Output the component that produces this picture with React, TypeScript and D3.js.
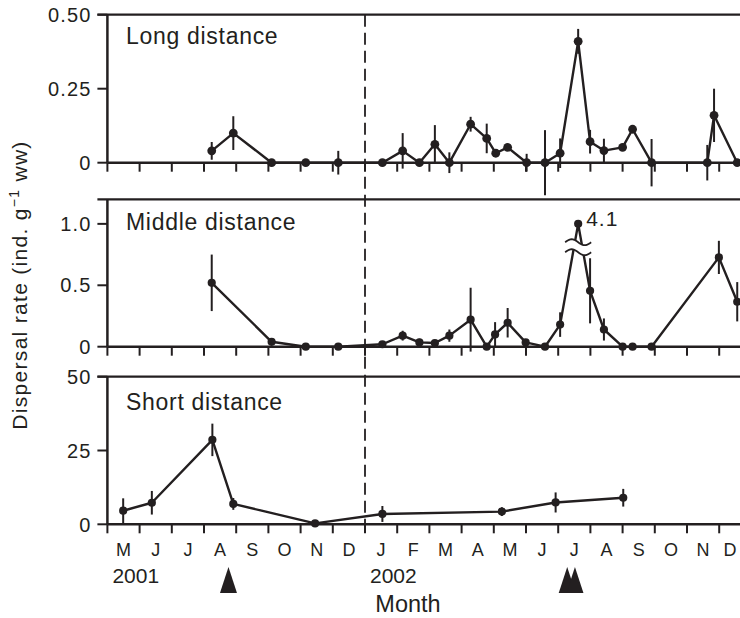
import * as d3 from "d3";
import React from "react";

const monthLabels = ["M", "J", "J", "A", "S", "O", "N", "D", "J", "F", "M", "A", "M", "J", "J", "A", "S", "O", "N", "D"];
const yearLabels = ["2001", "2002"];
const yearStartMonths = [0, 8];
const arrowMonths = [3.76, 14.28, 14.52];

// sample times, in months since 1 May 2001
const longMonths = [3.24, 3.91, 5.1, 6.16, 7.17, 8.54, 9.17, 9.69, 10.17, 10.62, 11.28, 11.78, 12.06, 12.43, 13.02, 13.59, 14.06, 14.62, 14.99, 15.42, 16.0, 16.31, 16.9, 18.63, 18.84, 19.56];
const longRates = [0.04, 0.1, 0, 0, 0, 0, 0.04, 0, 0.062, 0, 0.13, 0.082, 0.032, 0.052, 0, 0, 0.032, 0.41, 0.071, 0.041, 0.052, 0.113, 0, 0, 0.16, 0];
const longErrors = [0.03, 0.057, 0, 0, 0.04, 0, 0.06, 0, 0.065, 0.035, 0.025, 0.05, 0, 0, 0.03, 0.11, 0.05, 0.042, 0.04, 0.04, 0, 0, 0.08, 0.06, 0.09, 0];

const middleMonths = [3.24, 5.1, 6.16, 7.17, 8.54, 9.17, 9.69, 10.17, 10.62, 11.28, 11.78, 12.04, 12.43, 12.99, 13.59, 14.06, 14.62, 14.99, 15.42, 16.0, 16.31, 16.9, 18.99, 19.56];
const middleRates = [0.52, 0.04, 0, 0, 0.02, 0.09, 0.035, 0.03, 0.09, 0.22, 0, 0.1, 0.195, 0.035, 0, 0.18, 4.1, 0.455, 0.14, 0, 0, 0, 0.727, 0.366];
const middleErrors = [0.23, 0, 0, 0, 0, 0.04, 0.03, 0, 0.05, 0.26, 0, 0.1, 0.12, 0, 0, 0.1, 0, 0.265, 0.09, 0, 0, 0, 0.135, 0.16];

const shortMonths = [0.49, 1.38, 3.26, 3.91, 6.45, 8.54, 12.25, 13.92, 16.02];
const shortRates = [4.6, 7.3, 28.6, 6.9, 0.3, 3.5, 4.3, 7.4, 9.0];
const shortErrors = [4.2, 4.0, 5.5, 2.0, 0, 2.7, 1.5, 3.4, 3.0];

const longTicks = [0, 0.25, 0.5];
const longTickLabels = ["0", "0.25", "0.50"];
const middleTicks = [0, 0.5, 1.0];
const middleTickLabels = ["0", "0.5", "1.0"];
const shortTicks = [0, 25, 50];
const shortTickLabels = ["0", "25", "50"];

const WIDTH = 740;
const HEIGHT = 618;
const INK = "#231f20";
const FONT = "'Liberation Sans', Arial, Helvetica, sans-serif";

export default function App() {
	const svgRef = React.useRef<SVGSVGElement>(null);

	React.useEffect(() => {
		if (!svgRef.current) return;
		const svg = d3.select(svgRef.current);
		svg.selectAll("*").remove();

		const x = d3.scaleLinear().domain([0, 19]).range([107.4, 719.2]);
		const left = x(0);

		const panels = [
			{ label: "Long distance", months: longMonths, rates: longRates, errors: longErrors, max: 0.5, top: 14.7, bottom: 162.7, ticks: longTicks, tickLabels: longTickLabels, labelDy: 29, r: 4.4 },
			{ label: "Middle distance", months: middleMonths, rates: middleRates, errors: middleErrors, max: 1.2, top: 199.3, bottom: 346.7, ticks: middleTicks, tickLabels: middleTickLabels, labelDy: 31, r: 4.1 },
			{ label: "Short distance", months: shortMonths, rates: shortRates, errors: shortErrors, max: 50, top: 376.7, bottom: 524.3, ticks: shortTicks, tickLabels: shortTickLabels, labelDy: 33, r: 4.1 },
		];

		// dashed line at the start of 2002
		svg
			.append("line")
			.attr("x1", x(8))
			.attr("x2", x(8))
			.attr("y1", panels[0].top)
			.attr("y2", panels[2].bottom)
			.attr("stroke", INK)
			.attr("stroke-width", 1.8)
			.attr("stroke-dasharray", "12,6");

		panels.forEach((p) => {
			const y = d3.scaleLinear().domain([0, p.max]).range([p.bottom, p.top]);
			const g = svg.append("g");

			// frame: top and left spines, baseline
			g.append("line").attr("x1", left - 10).attr("x2", WIDTH).attr("y1", p.top).attr("y2", p.top).attr("stroke", INK).attr("stroke-width", 2.2);
			g.append("line").attr("x1", left).attr("x2", left).attr("y1", p.top).attr("y2", p.bottom).attr("stroke", INK).attr("stroke-width", 2.5);
			g.append("line").attr("x1", left).attr("x2", WIDTH).attr("y1", p.bottom).attr("y2", p.bottom).attr("stroke", INK).attr("stroke-width", 2.5);

			// y ticks
			p.ticks.forEach((t, i) => {
				g.append("line").attr("x1", left - 10).attr("x2", left).attr("y1", y(t)).attr("y2", y(t)).attr("stroke", INK).attr("stroke-width", 2);
				g.append("text")
					.attr("x", left - 16)
					.attr("y", y(t))
					.attr("dy", "0.36em")
					.attr("text-anchor", "end")
					.attr("font-size", 20)
					.attr("letter-spacing", 1.1)
					.attr("fill", INK)
					.text(p.tickLabels[i]);
			});

			// x ticks at month boundaries
			d3.range(0, 20).forEach((m) => {
				g.append("line").attr("x1", x(m)).attr("x2", x(m)).attr("y1", p.bottom).attr("y2", p.bottom + 9).attr("stroke", INK).attr("stroke-width", 2);
			});

			g.append("text")
				.attr("x", 126)
				.attr("y", p.top + p.labelDy)
				.attr("font-size", 23)
				.attr("letter-spacing", 0.7)
				.attr("fill", INK)
				.text(p.label);

			const shown = p.rates.map((v) => (v > p.max ? 1.0 : v));

			// error bars
			p.months.forEach((m, i) => {
				if (!p.errors[i]) return;
				g.append("line")
					.attr("x1", x(m))
					.attr("x2", x(m))
					.attr("y1", y(shown[i] - p.errors[i]))
					.attr("y2", y(shown[i] + p.errors[i]))
					.attr("stroke", INK)
					.attr("stroke-width", 2);
			});

			const line = d3
				.line<number>()
				.x((_, i) => x(p.months[i]))
				.y((d) => y(d));

			g.append("path")
				.attr("d", line(shown))
				.attr("fill", "none")
				.attr("stroke", INK)
				.attr("stroke-width", 2.4)
				.attr("stroke-linejoin", "round");

			g.selectAll("circle.pt")
				.data(shown)
				.join("circle")
				.attr("cx", (_, i) => x(p.months[i]))
				.attr("cy", (d) => y(d))
				.attr("r", p.r)
				.attr("fill", INK);

			// axis break for values above the axis
			p.rates.forEach((v, i) => {
				if (v <= p.max) return;
				const px = x(p.months[i]);
				const cy = y(0.81);
				const wave = (offset: number) =>
					d3.range(0, 1.0001, 0.05).map((t) => [px - 13 + 26 * t, cy + offset - 3 * Math.sin(2 * Math.PI * t)] as [number, number]);
				const upper = wave(-5);
				const lower = wave(5);
				g.append("path")
					.attr(
						"d",
						d3
							.area<[number, number]>()
							.x((d) => d[0])
							.y0((_, k) => lower[k][1])
							.y1((d) => d[1])(upper),
					)
					.attr("fill", "white");
				[upper, lower].forEach((w) => {
					g.append("path")
						.attr("d", d3.line()(w))
						.attr("fill", "none")
						.attr("stroke", INK)
						.attr("stroke-width", 1.8);
				});
				g.append("text")
					.attr("x", px + 8)
					.attr("y", y(1.0) + 2)
					.attr("font-size", 21)
					.attr("letter-spacing", 1)
					.attr("fill", INK)
					.text(v.toFixed(1));
			});
		});

		// month labels
		monthLabels.forEach((lab, i) => {
			svg.append("text")
				.attr("x", Math.min(x(i + 0.5), WIDTH - 10))
				.attr("y", 556)
				.attr("text-anchor", "middle")
				.attr("font-size", 18)
				.attr("fill", INK)
				.text(lab);
		});

		yearLabels.forEach((lab, i) => {
			svg.append("text")
				.attr("x", x(yearStartMonths[i]) + 5)
				.attr("y", 583)
				.attr("font-size", 21)
				.attr("fill", INK)
				.text(lab);
		});

		// event arrows
		arrowMonths.forEach((m) => {
			const ax = x(m);
			svg.append("path")
				.attr("d", d3.line()([[ax, 567], [ax - 8.5, 593], [ax + 8.5, 593]]) + "Z")
				.attr("fill", INK);
		});

		svg.append("text")
			.attr("x", 408)
			.attr("y", 612)
			.attr("text-anchor", "middle")
			.attr("font-size", 23.5)
			.attr("fill", INK)
			.text("Month");

		const ylab = svg
			.append("text")
			.attr("transform", `translate(27, 285) rotate(-90)`)
			.attr("text-anchor", "middle")
			.attr("font-size", 21)
			.attr("letter-spacing", 1.3)
			.attr("fill", INK);
		ylab.append("tspan").text("Dispersal rate (ind. g");
		ylab.append("tspan").attr("dy", -8).attr("font-size", 14).text("\u22121");
		ylab.append("tspan").attr("dy", 8).text(" ww)");
	}, []);

	return (
		<svg
			ref={svgRef}
			width={WIDTH}
			height={HEIGHT}
			fontFamily={FONT}
			style={{ position: "absolute", left: 0, top: 0, background: "white" }}
		/>
	);
}
